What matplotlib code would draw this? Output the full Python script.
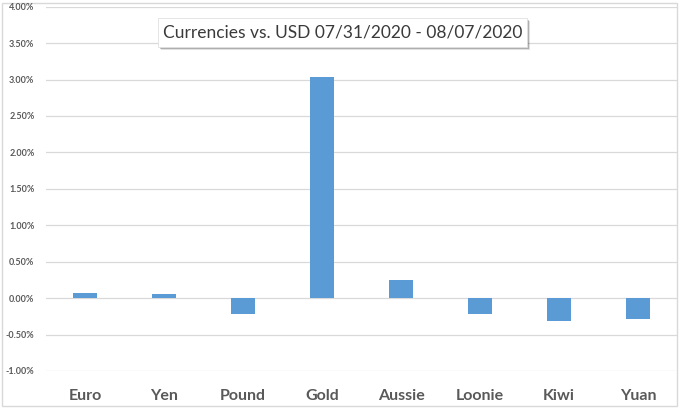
import matplotlib
matplotlib.use("Agg")
import matplotlib.pyplot as plt
from matplotlib.patches import Rectangle
from matplotlib.ticker import FuncFormatter

currencies = ["Euro", "Yen", "Pound", "Gold", "Aussie", "Loonie", "Kiwi", "Yuan"]
changes = [0.07, 0.05, -0.22, 3.03, 0.25, -0.22, -0.31, -0.29]
y_ticks = [-1.0, -0.5, 0.0, 0.5, 1.0, 1.5, 2.0, 2.5, 3.0, 3.5, 4.0]
title = "Currencies vs. USD 07/31/2020 - 08/07/2020"

plt.rcParams['font.family'] = ['Lato', 'DejaVu Sans']
W, H = 680, 409

fig = plt.figure(figsize=(6.8, 4.09), dpi=100)
ax = fig.add_axes([45.5 / W, 38 / H, 632 / W, 364.3 / H])

x = range(len(currencies))
ax.bar(x, changes, width=0.3, color="#5b9bd5", zorder=3)

ax.set_xlim(-0.5, len(currencies) - 0.5)
ax.set_ylim(-1.0, 4.0)
ax.set_yticks(y_ticks)
ax.yaxis.set_major_formatter(FuncFormatter(lambda v, p: f"{v:.2f}%"))
ax.set_xticks(list(x))
ax.set_xticklabels(currencies, fontsize=11.5, fontweight="bold", color="#595959")
ax.tick_params(axis="x", length=0, pad=13)
ax.tick_params(axis="y", length=0, pad=8, labelsize=6.5, labelcolor="#595959")
for lab in ax.get_yticklabels():
    lab.set_fontweight("bold")

ax.grid(axis="y", color="#d9d9d9", linewidth=0.9, zorder=0)
for s in ax.spines.values():
    s.set_visible(False)

# outer chart border
ax.add_patch(Rectangle((2 / W, 3 / H), 675 / W, 403 / H, transform=fig.transFigure,
                       fill=False, edgecolor="#d9d9d9", linewidth=1.0, clip_on=False))

# title box with shadow
bx0, bx1, by0, by1 = 158, 527, 18, 47
for off, a in [(3, 0.12), (2, 0.22)]:
    ax.add_patch(Rectangle(((bx0 + off) / W, (H - by1 - off) / H), (bx1 - bx0) / W,
                           (by1 - by0) / H, transform=fig.transFigure, clip_on=False,
                           facecolor="#000000", edgecolor="none", alpha=a, zorder=10))
ax.add_patch(Rectangle((bx0 / W, (H - by1) / H), (bx1 - bx0) / W, (by1 - by0) / H,
                       transform=fig.transFigure, facecolor="white", clip_on=False,
                       edgecolor="#e0e0e0", linewidth=0.6, zorder=11))
ax.text((bx0 + bx1) / 2 / W, (H - (by0 + by1) / 2) / H, title, ha="center", va="center",
        transform=fig.transFigure, fontsize=12.5, color="#3a3a3a", zorder=12)

fig.savefig("out.png", dpi=100)
